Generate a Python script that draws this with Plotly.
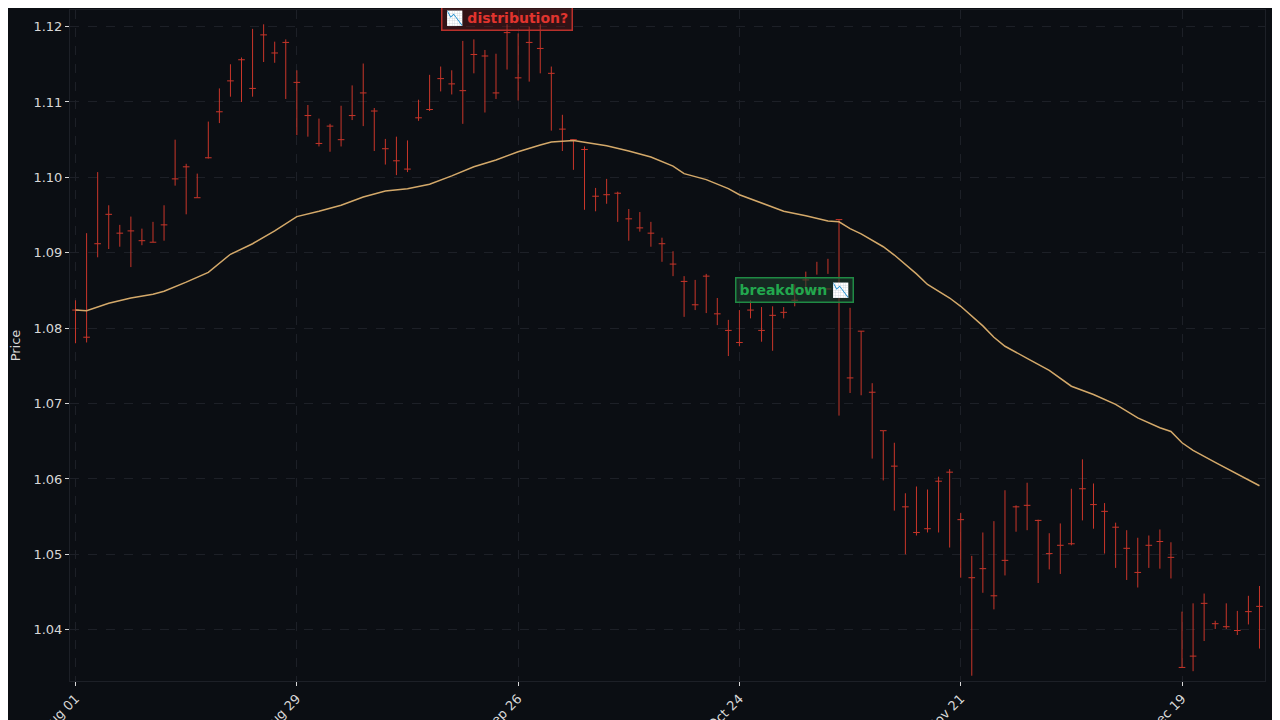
import pandas as pd
import plotly.graph_objects as go

# daily bars, business days from 2023-08-01
dates = pd.bdate_range("2023-08-01", periods=108)

high = [1.0837, 1.0926, 1.1007, 1.0963, 1.0937, 1.0948, 1.0932, 1.0941, 1.0963, 1.1050,
        1.1018, 1.1005, 1.1074, 1.1118, 1.1150, 1.1159, 1.1197, 1.1203, 1.1180, 1.1183,
        1.1142, 1.1096, 1.1078, 1.1071, 1.1095, 1.1122, 1.1151, 1.1092, 1.1051, 1.1054,
        1.1049, 1.1103, 1.1136, 1.1147, 1.1142, 1.1181, 1.1183, 1.1169, 1.1164, 1.1203,
        1.1191, 1.1200, 1.1203, 1.1147, 1.1083, 1.1050, 1.1041, 1.0986, 1.0998, 1.0981,
        1.0958, 1.0954, 1.0941, 1.0920, 1.0902, 1.0869, 1.0864, 1.0872, 1.0840, 1.0811,
        1.0824, 1.0837, 1.0828, 1.0829, 1.0828, 1.0858, 1.0875, 1.0888, 1.0892, 1.0944,
        1.0827, 1.0796, 1.0727, 1.0664, 1.0648, 1.0581, 1.0590, 1.0586, 1.0603, 1.0613,
        1.0555, 1.0498, 1.0529, 1.0544, 1.0585, 1.0565, 1.0595, 1.0546, 1.0528, 1.0541,
        1.0587, 1.0626, 1.0594, 1.0568, 1.0542, 1.0532, 1.0522, 1.0525, 1.0533, 1.0516,
        1.0424, 1.0435, 1.0448, 1.0412, 1.0435, 1.0425, 1.0445, 1.0458]
low = [1.0780, 1.0781, 1.0894, 1.0905, 1.0908, 1.0881, 1.0910, 1.0914, 1.0916, 1.0989,
       1.0951, 1.0973, 1.1025, 1.1072, 1.1107, 1.1100, 1.1107, 1.1153, 1.1152, 1.1104,
       1.1056, 1.1054, 1.1041, 1.1034, 1.1041, 1.1076, 1.1068, 1.1035, 1.1017, 1.1003,
       1.1007, 1.1075, 1.1088, 1.1114, 1.1110, 1.1071, 1.1138, 1.1086, 1.1104, 1.1143,
       1.1102, 1.1127, 1.1138, 1.1062, 1.1035, 1.1010, 1.0957, 1.0955, 1.0965, 1.0941,
       1.0916, 1.0928, 1.0908, 1.0888, 1.0869, 1.0815, 1.0824, 1.0820, 1.0804, 1.0763,
       1.0776, 1.0813, 1.0782, 1.0770, 1.0813, 1.0829, 1.0846, 1.0871, 1.0872, 1.0684,
       1.0714, 1.0711, 1.0627, 1.0598, 1.0558, 1.0500, 1.0525, 1.0529, 1.0529, 1.0509,
       1.0469, 1.0339, 1.0449, 1.0427, 1.0472, 1.0530, 1.0532, 1.0462, 1.0480, 1.0474,
       1.0512, 1.0545, 1.0534, 1.0501, 1.0482, 1.0466, 1.0456, 1.0482, 1.0481, 1.0468,
       1.0350, 1.0345, 1.0385, 1.0401, 1.0401, 1.0393, 1.0407, 1.0375]
close = [1.0824, 1.0788, 1.0912, 1.0951, 1.0926, 1.0929, 1.0916, 1.0914, 1.0937, 1.0998,
         1.1014, 1.0973, 1.1026, 1.1087, 1.1128, 1.1156, 1.1118, 1.1189, 1.1165, 1.1179,
         1.1126, 1.1082, 1.1045, 1.1068, 1.1050, 1.1082, 1.1112, 1.1088, 1.1038, 1.1022,
         1.1011, 1.1079, 1.1090, 1.1131, 1.1124, 1.1115, 1.1163, 1.1161, 1.1112, 1.1192,
         1.1132, 1.1179, 1.1171, 1.1138, 1.1064, 1.1050, 1.1037, 1.0975, 1.0977, 1.0979,
         1.0945, 1.0933, 1.0926, 1.0912, 1.0885, 1.0862, 1.0831, 1.0869, 1.0819, 1.0797,
         1.0781, 1.0824, 1.0797, 1.0817, 1.0821, 1.0837, 1.0864, 1.0851, 1.0852, 1.0944,
         1.0734, 1.0796, 1.0715, 1.0664, 1.0617, 1.0563, 1.0529, 1.0534, 1.0597, 1.0609,
         1.0546, 1.0469, 1.0481, 1.0445, 1.0492, 1.0563, 1.0565, 1.0545, 1.0501, 1.0512,
         1.0514, 1.0587, 1.0566, 1.0557, 1.0536, 1.0508, 1.0476, 1.0512, 1.0517, 1.0496,
         1.0350, 1.0365, 1.0435, 1.0408, 1.0404, 1.0399, 1.0424, 1.0431]
open_ = close  # open and close ticks sit at the same level in the picture

# moving average at a subset of bars
ma_idx = [0, 1, 3, 5, 7, 8, 10, 12, 14, 16, 18, 20, 22, 24, 26, 28, 30, 32, 34, 36, 38, 40,
          42, 43, 45, 46, 48, 50, 52, 54, 55, 57, 59, 60, 62, 64, 66, 68, 69, 70, 71, 72, 73,
          74, 75, 76, 77, 79, 80, 82, 83, 84, 86, 88, 90, 92, 94, 96, 98, 99, 100, 101, 103,
          105, 107]
ma_val = [1.0824, 1.0823, 1.0833, 1.0840, 1.0845, 1.0849, 1.0861, 1.0874, 1.0898, 1.0912,
          1.0929, 1.0948, 1.0955, 1.0963, 1.0974, 1.0982, 1.0985, 1.0991, 1.1002, 1.1014,
          1.1023, 1.1034, 1.1043, 1.1047, 1.1049, 1.1047, 1.1042, 1.1035, 1.1027, 1.1015,
          1.1005, 1.0997, 1.0985, 1.0977, 1.0966, 1.0955, 1.0949, 1.0942, 1.0941, 1.0932,
          1.0925, 1.0917, 1.0908, 1.0897, 1.0885, 1.0872, 1.0858, 1.0840, 1.0829, 1.0803,
          1.0788, 1.0776, 1.0760, 1.0744, 1.0723, 1.0712, 1.0699, 1.0681, 1.0668, 1.0663,
          1.0648, 1.0638, 1.0622, 1.0606, 1.0591]

tick_dates = ["2023-08-01", "2023-08-29", "2023-09-26", "2023-10-24", "2023-11-21", "2023-12-19"]

bar_red = "#c9362a"
bg = "#0b0e13"
grid = "#1d2027"

fig = go.Figure()
fig.add_trace(go.Ohlc(
    x=dates, open=open_, high=high, low=low, close=close,
    increasing=dict(line=dict(color=bar_red, width=1)),
    decreasing=dict(line=dict(color=bar_red, width=1)),
    tickwidth=0.3, showlegend=False,
))
fig.add_trace(go.Scatter(
    x=dates[ma_idx], y=ma_val, mode="lines",
    line=dict(color="#d4a96a", width=1.5), showlegend=False,
))

fig.add_annotation(x=dates[39], y=1.1212, text="📉 distribution?", showarrow=False,
                   font=dict(color="#e0342e", size=14, family="DejaVu Sans", weight="bold"),
                   bgcolor="rgba(120,30,30,0.35)", bordercolor="#b8302b", borderwidth=1.5,
                   borderpad=3)
fig.add_annotation(x=dates[65], y=1.0850, text="breakdown 📉", showarrow=False,
                   font=dict(color="#22a84e", size=14, family="DejaVu Sans", weight="bold"),
                   bgcolor="rgba(30,60,45,0.6)", bordercolor="#1f8a44", borderwidth=1.5,
                   borderpad=3)

fig.update_layout(
    width=1280, height=720,
    paper_bgcolor=bg, plot_bgcolor=bg,
    margin=dict(l=62, r=23, t=2, b=47),
    font=dict(family="DejaVu Sans", color="#d8d8d8", size=13),
    xaxis=dict(
        automargin=False,
        rangeslider=dict(visible=False),
        rangebreaks=[dict(bounds=["sat", "mon"])],
        tickvals=tick_dates, tickformat="%b %d", tickangle=-45,
        showgrid=True, gridcolor=grid, griddash="dash",
        ticks="outside", tickcolor="#d8d8d8", ticklen=4,
        showline=True, linecolor=grid, mirror=True, zeroline=False,
    ),
    yaxis=dict(
        automargin=False,
        title=dict(text="Price", font=dict(size=13), standoff=10),
        range=[1.0332, 1.1222], dtick=0.01, tickformat=".2f",
        showgrid=True, gridcolor=grid, griddash="dash",
        ticks="outside", tickcolor="#d8d8d8", ticklen=4,
        showline=True, linecolor=grid, mirror=True, zeroline=False,
    ),
)

fig.write_html("out.html")
